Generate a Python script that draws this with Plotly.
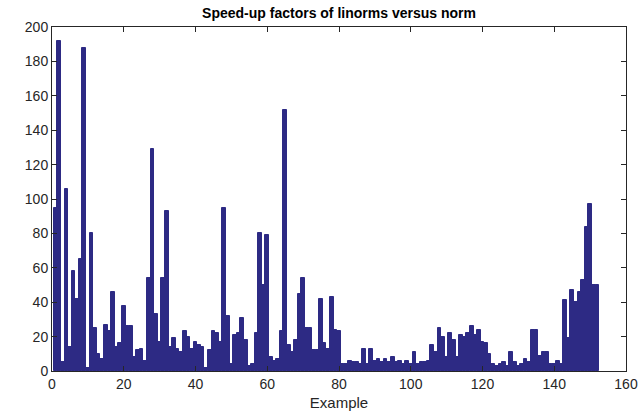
import plotly.graph_objects as go

title_text = "Speed-up factors of linorms versus norm"
x_label = "Example"

speedup = [
    95, 192, 5, 106, 14, 58, 42, 65, 188, 1.5,
    80, 25, 10, 7, 27, 23, 46, 14, 16, 38,
    26, 26, 8, 12, 13, 6, 54, 129, 33, 17,
    54, 93, 14, 19, 13, 11, 23, 20, 13, 17,
    15, 14, 2, 12, 23, 22, 17, 95, 32, 4,
    21, 22, 31, 18, 3, 4, 22, 80, 50, 79,
    8, 6, 7, 23, 152, 15, 11, 18, 45, 54,
    25, 25, 12, 12, 42, 16, 13, 43, 24, 23,
    4, 4, 6, 5, 5, 4, 13, 4, 13, 6,
    7, 5, 7, 5, 8, 5, 6, 4, 6, 4,
    11, 4, 5, 5, 6, 15, 11, 25, 20, 8,
    22, 18, 8, 21, 20, 22, 26, 21, 24, 17,
    16, 10, 4, 3, 4, 5, 3, 11, 5, 3,
    4, 7, 5, 24, 24, 9, 11, 11, 4, 4,
    6, 4, 41, 19, 47, 40, 46, 53, 84, 97,
    50, 50,
]
examples = list(range(1, len(speedup) + 1))

x_ticks = [0, 20, 40, 60, 80, 100, 120, 140, 160]
y_ticks = [0, 20, 40, 60, 80, 100, 120, 140, 160, 180, 200]

bar_color = "#2d2a84"
axis_color = "#262626"
font_family = "Liberation Sans, Arial, Helvetica, sans-serif"

fig = go.Figure(
    go.Bar(
        x=examples,
        y=speedup,
        marker=dict(color=bar_color, line=dict(color=bar_color, width=1)),
        width=1.0,
    )
)

axis_common = dict(
    showgrid=False,
    zeroline=False,
    showline=True,
    linecolor=axis_color,
    linewidth=1,
    mirror="ticks",
    ticks="inside",
    ticklen=5,
    tickwidth=1,
    tickcolor=axis_color,
    automargin=False,
    tickfont=dict(family=font_family, size=14, color=axis_color),
)

fig.update_layout(
    width=640,
    height=419,
    margin=dict(l=52, r=14, t=27, b=48, autoexpand=False),
    paper_bgcolor="white",
    plot_bgcolor="white",
    bargap=0,
    showlegend=False,
    title=dict(
        text="<b>" + title_text + "</b>",
        x=(52 + 626) / 2 / 640,
        xanchor="center",
        y=1 - 13 / 419,
        yanchor="middle",
        font=dict(family=font_family, size=14, color="black"),
    ),
    xaxis=dict(
        range=[0, 160],
        tickvals=x_ticks,
        title=dict(text=x_label, standoff=6,
                   font=dict(family=font_family, size=15, color=axis_color)),
        **axis_common,
    ),
    yaxis=dict(
        range=[0, 200],
        tickvals=y_ticks,
        **axis_common,
    ),
)

fig.write_html(
    "out.html",
    config={"displayModeBar": False},
    post_script="document.body.style.margin='0';document.body.style.overflow='hidden';",
)
